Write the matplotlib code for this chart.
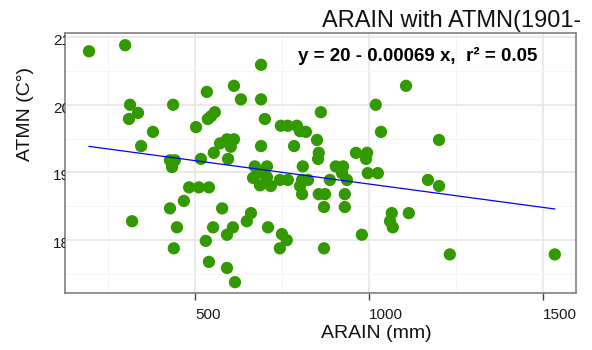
import numpy as np
import matplotlib
matplotlib.use('Agg')

import matplotlib.pyplot as plt
from matplotlib.transforms import Bbox, TransformedBbox, blended_transform_factory, offset_copy

# annual rainfall (mm) vs mean min temperature (C)
arain = [195, 299, 534, 612, 632, 313, 336, 310, 437, 557,
         537, 546, 503, 379, 345, 572, 592, 612, 603, 554,
         595, 517, 428, 442, 434, 690, 690, 701, 690, 747,
         767, 793, 802, 819, 862, 851, 785, 856, 854, 1107,
         1020, 1035, 963, 995, 992, 810, 905, 926, 672, 707,
         681, 667, 707, 687, 718, 744, 767, 808, 825, 802,
         808, 856, 874, 931, 888, 923, 937, 871, 931, 997,
         1026, 1066, 1061, 1069, 1115, 661, 649, 710, 750, 764,
         744, 871, 980, 1170, 1202, 1202, 1233, 1535, 483, 511,
         540, 468, 428, 578, 319, 448, 552, 609, 592, 531,
         439, 540, 592, 615]
atmn = [20.79, 20.88, 20.19, 20.28, 20.08, 20.00, 19.88, 19.79, 20.00, 19.89,
        19.79, 19.83, 19.67, 19.60, 19.39, 19.43, 19.49, 19.49, 19.38, 19.29,
        19.20, 19.20, 19.18, 19.18, 19.08, 20.59, 20.08, 19.79, 19.39, 19.69,
        19.69, 19.69, 19.61, 19.60, 19.89, 19.48, 19.39, 19.29, 19.20, 20.28,
        20.00, 19.60, 19.29, 19.29, 19.20, 19.09, 19.09, 19.09, 19.09, 19.09,
        18.99, 18.92, 18.93, 18.81, 18.80, 18.89, 18.89, 18.89, 18.89, 18.80,
        18.68, 18.68, 18.68, 18.68, 18.89, 18.99, 18.89, 18.49, 18.49, 18.99,
        18.99, 18.40, 18.28, 18.19, 18.40, 18.40, 18.28, 18.19, 18.09, 18.00,
        17.88, 17.88, 18.08, 18.89, 18.80, 19.48, 17.79, 17.79, 18.78, 18.78,
        18.78, 18.58, 18.47, 18.47, 18.28, 18.19, 18.19, 18.19, 18.08, 17.99,
        17.88, 17.68, 17.59, 17.38]

fit_intercept = 19.52
fit_slope = -0.00069

x_ticks = [500, 1000, 1500]
y_ticks = [18, 19, 20, 21]
title = 'ARAIN with ATMN(1901-2010)'
eq_label = 'y = 20 - 0.00069 x,  r² = 0.05'

plt.rcParams['font.family'] = ['Liberation Sans', 'DejaVu Sans']

W, H = 592, 350
fig = plt.figure(figsize=(W / 100, H / 100), dpi=100)
ax = fig.add_axes([65 / W, 57 / H, 511 / W, 260 / H])

ax.set_xlim(126, 1596)
ax.set_ylim(17.22, 21.06)

# grid
ax.set_xticks([250, 750, 1250], minor=True)
ax.set_yticks([17.5, 18.5, 19.5, 20.5], minor=True)
ax.set_xticks(x_ticks)
ax.set_yticks(y_ticks)
ax.grid(True, which='major', color='#e6e6e6', lw=1.2, zorder=0)
ax.grid(True, which='minor', color='#f5f5f5', lw=0.7, zorder=0)
ax.set_axisbelow(True)

ax.scatter(arain, atmn, s=78, color='#339900', edgecolors='none', zorder=3)

xs = np.array([min(arain), max(arain)])
ax.plot(xs, fit_intercept + fit_slope * xs, color='#0000ff', lw=0.9, zorder=4)

for sp in ax.spines.values():
    sp.set_color('#808080')
    sp.set_linewidth(1.2)

ax.tick_params(axis='x', which='major', length=5, width=1.0, color='#444444',
               pad=5.5, labelsize=11, labelcolor='#1a1a1a')
ax.tick_params(axis='x', which='minor', length=0)
ax.tick_params(axis='y', which='both', length=0, labelleft=False)
for lab in ax.get_xticklabels():
    lab.set_horizontalalignment('left')

# y tick labels, cut off by the panel edge
ytrans = offset_copy(blended_transform_factory(fig.transFigure, ax.transData),
                     fig=fig, y=-4, units='dots')
yclip = TransformedBbox(Bbox.from_extents(0, 0, 65 / W, 1), fig.transFigure)
for v in y_ticks:
    fig.text(53 / W, v, str(v), transform=ytrans, ha='left', va='center',
             fontsize=11, color='#1a1a1a', clip_box=yclip, clip_on=True)

tclip = TransformedBbox(Bbox.from_extents(0, 0, 580 / W, 1), fig.transFigure)
fig.text(322 / W, 1 - 27 / H, title, ha='left', va='baseline', fontsize=17,
         color='#111111', clip_box=tclip, clip_on=True)

fig.text(298 / W, 1 - 56 / H, eq_label, ha='left', va='center', fontsize=13.5,
         fontweight='bold', color='black')

fig.text(376 / W, 1 - 333 / H, 'ARAIN (mm)', ha='center', va='center',
         fontsize=14, color='#111111')
fig.text(25 / W, 1 - 114 / H, 'ATMN (C°)', ha='center', va='center',
         rotation=90, fontsize=14, color='#111111')

fig.savefig('out.png', dpi=100)
